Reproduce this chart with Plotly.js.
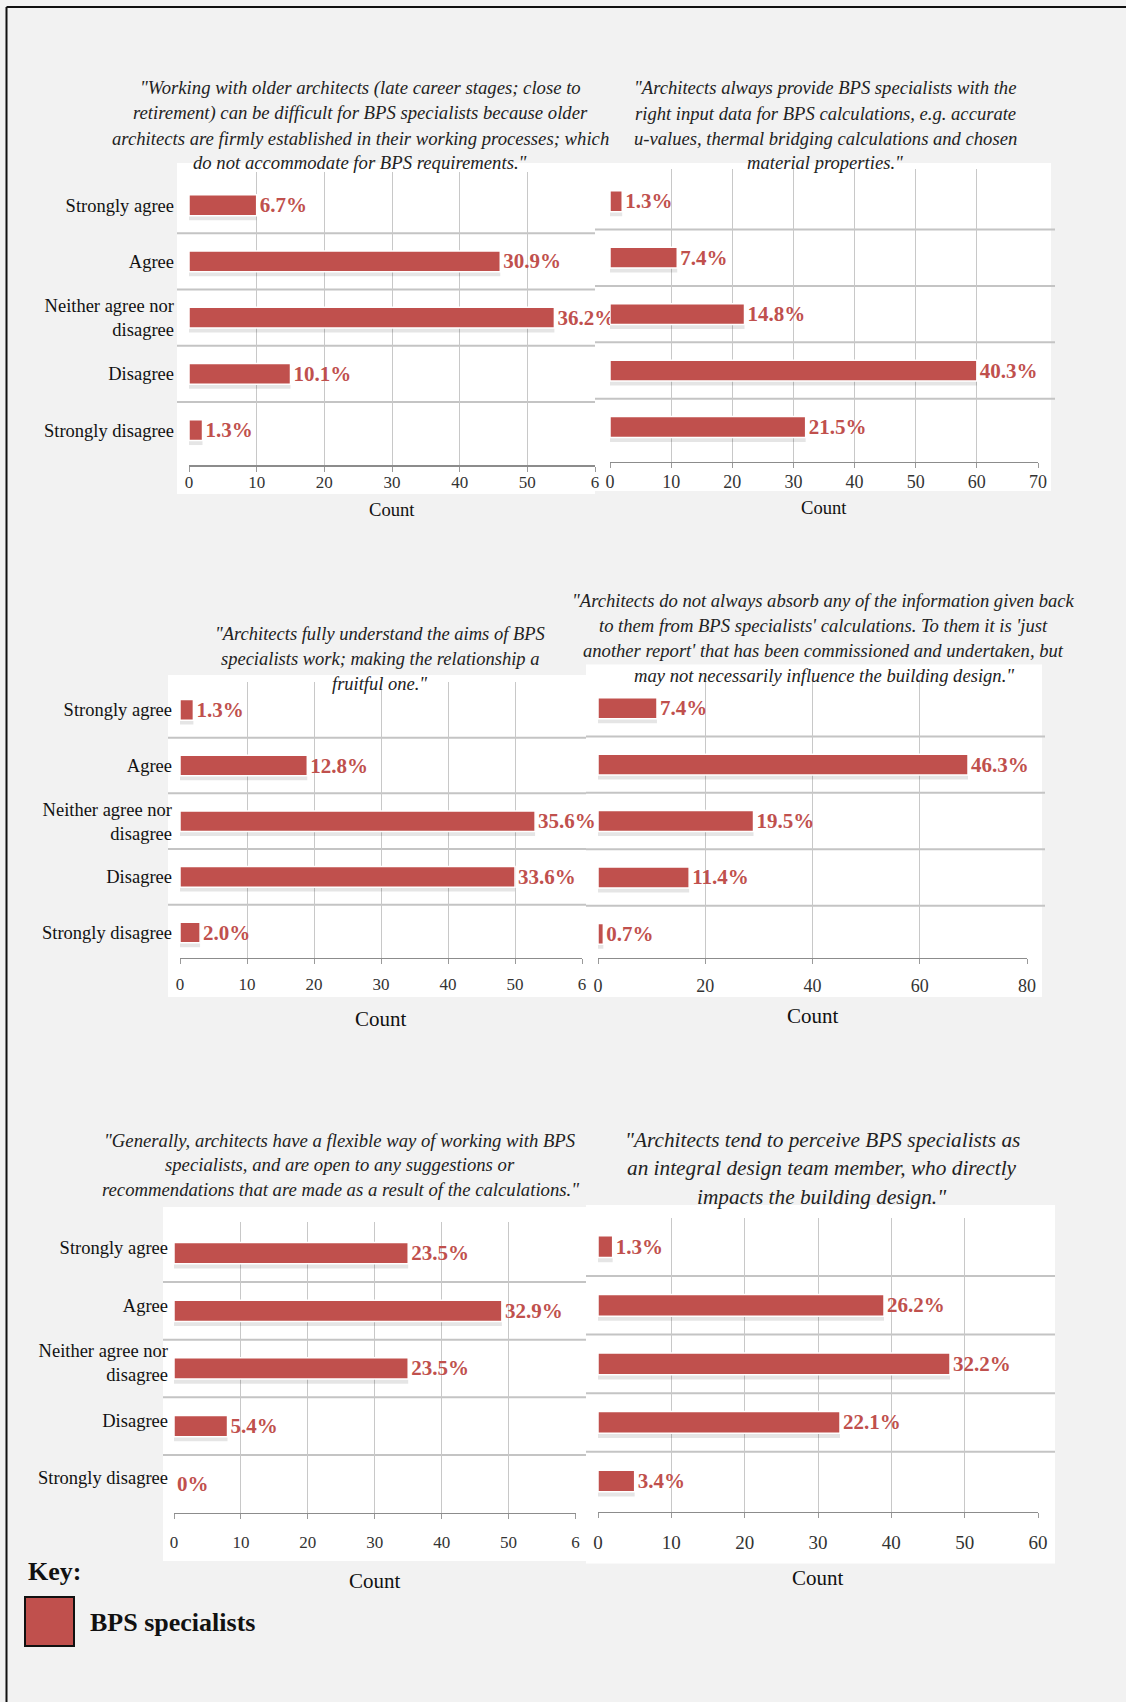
<!DOCTYPE html>
<html><head><meta charset="utf-8">
<script src="https://cdn.plot.ly/plotly-3.0.1.min.js"></script>
<style>html,body{margin:0;padding:0;background:#f2f2f2;} #chart{width:1126px;height:1702px;}</style>
</head><body><div id="chart"></div>
<script>
// ---------- DATA ----------
const categories = ["Strongly agree", "Agree", "Neither agree nor disagree", "Disagree", "Strongly disagree"];

const countsP1 = [10, 46, 54, 15, 2];
const pctP1 = [6.7, 30.9, 36.2, 10.1, 1.3];
const countsP2 = [2, 11, 22, 60, 32];
const pctP2 = [1.3, 7.4, 14.8, 40.3, 21.5];
const countsP3 = [2, 19, 53, 50, 3];
const pctP3 = [1.3, 12.8, 35.6, 33.6, 2.0];
const countsP4 = [11, 69, 29, 17, 1];
const pctP4 = [7.4, 46.3, 19.5, 11.4, 0.7];
const countsP5 = [35, 49, 35, 8, 0];
const pctP5 = [23.5, 32.9, 23.5, 5.4, 0];
const countsP6 = [2, 39, 48, 33, 5];
const pctP6 = [1.3, 26.2, 32.2, 22.1, 3.4];

const titleP1 = ["\"Working with older architects (late career stages; close to",
  "retirement) can be difficult for BPS specialists because older",
  "architects are firmly established in their working processes; which",
  "do not accommodate for BPS requirements.\""];
const titleP2 = ["\"Architects always provide BPS specialists with the",
  "right input data for BPS calculations, e.g. accurate",
  "u-values, thermal bridging calculations and chosen",
  "material properties.\""];
const titleP3 = ["\"Architects fully understand the aims of BPS",
  "specialists work; making the relationship a",
  "fruitful one.\""];
const titleP4 = ["\"Architects do not always absorb any of the information given back",
  "to them from BPS specialists' calculations. To them it is 'just",
  "another report' that has been commissioned and undertaken, but",
  "may not necessarily influence the building design.\""];
const titleP5 = ["\"Generally, architects have a flexible way of working with BPS",
  "specialists, and are open to any suggestions or",
  "recommendations that are made as a result of the calculations.\""];
const titleP6 = ["\"Architects tend to perceive BPS specialists as",
  "an integral design team member, who directly",
  "impacts the building design.\""];

const tickValsP1 = [0, 10, 20, 30, 40, 50, 60];
const tickTextP1 = ["0", "10", "20", "30", "40", "50", "6"];
const tickValsP2 = [0, 10, 20, 30, 40, 50, 60, 70];
const tickTextP2 = ["0", "10", "20", "30", "40", "50", "60", "70"];
const tickValsP3 = [0, 10, 20, 30, 40, 50, 60];
const tickTextP3 = ["0", "10", "20", "30", "40", "50", "6"];
const tickValsP4 = [0, 20, 40, 60, 80];
const tickTextP4 = ["0", "20", "40", "60", "80"];
const tickValsP5 = [0, 10, 20, 30, 40, 50, 60];
const tickTextP5 = ["0", "10", "20", "30", "40", "50", "6"];
const tickValsP6 = [0, 10, 20, 30, 40, 50, 60];
const tickTextP6 = ["0", "10", "20", "30", "40", "50", "60"];

const axisTitle = "Count";
const keyTitle = "Key:";
const seriesName = "BPS specialists";

// ---------- LAYOUT HELPERS ----------
const W = 1126, H = 1702;
const px = x => x / W;
const py = y => 1 - y / H;
const SERIF = "Liberation Serif, Times New Roman, serif";
const BAR = "#c0504d";

const panels = [
  {counts: countsP1, pct: pctP1, title: titleP1, tv: tickValsP1, tt: tickTextP1, cats: true, labShift: 0,
   L: 189, R: 595, T: 171.5, B: 465, yr: [4.62, -0.6], bg: [177, 595, 163, 494], sep: [177, 595],
   tcx: 360, tys: [88, 113, 138, 163], tfs: 18.7, tickfs: 17, cfs: 18.6, cy: 510, xso: -4, yso: 14},
  {counts: countsP2, pct: pctP2, title: titleP2, tv: tickValsP2, tt: tickTextP2, cats: false, labShift: 0,
   L: 610, R: 1038, T: 169, B: 461.5, yr: [4.61, -0.57], bg: [595, 1051, 163, 491], sep: [595, 1055],
   tcx: 825, tys: [88, 113, 138, 163], tfs: 18.6, tickfs: 18, cfs: 18.6, cy: 507, xso: -2, yso: 0},
  {counts: countsP3, pct: pctP3, title: titleP3, tv: tickValsP3, tt: tickTextP3, cats: true, labShift: 0,
   L: 180, R: 582, T: 682, B: 957.6, yr: [4.45, -0.5], bg: [168, 586, 675, 997], sep: [168, 586],
   tcx: 379.5, tys: [634, 659, 684], tfs: 18.5, tickfs: 17, cfs: 21, cy: 1018.5, xso: 5, yso: 7},
  {counts: countsP4, pct: pctP4, title: titleP4, tv: tickValsP4, tt: tickTextP4, cats: false, labShift: 0,
   L: 598, R: 1027, T: 680, B: 957.6, yr: [4.42, -0.5], bg: [586, 1042, 664.5, 997], sep: [586, 1045],
   tcx: 823.6, tys: [600.5, 625.4, 650.4, 675.4], tfs: 18.6, tickfs: 18, cfs: 21, cy: 1016, xso: 6, yso: 0},
  {counts: countsP5, pct: pctP5, title: titleP5, tv: tickValsP5, tt: tickTextP5, cats: true, labShift: -0.1,
   L: 174, R: 575.5, T: 1221.5, B: 1512.5, yr: [4.5, -0.55], bg: [163, 586, 1207, 1561], sep: [163, 586],
   tcx: 340, tys: [1140, 1164, 1189], tfs: 18.7, tickfs: 17, cfs: 21, cy: 1581, xso: 9, yso: 5},
  {counts: countsP6, pct: pctP6, title: titleP6, tv: tickValsP6, tt: tickTextP6, cats: false, labShift: 0,
   L: 598, R: 1038, T: 1218, B: 1511.5, yr: [4.52, -0.49], bg: [586, 1055, 1205, 1563.5], sep: [586, 1055],
   tcx: 822, tys: [1140, 1168, 1196.5], tfs: 21.3, tickfs: 19, cfs: 21, cy: 1577.7, xso: 8, yso: 0}
];

const catPos = categories.map((c, i) => i);
const catText = categories.map(c => c.replace("nor ", "nor<br>"));
const BW = 0.37;

const data = [];
const shapes = [];
const annotations = [];
const layout = {
  width: W, height: H,
  margin: {l: 0, r: 0, t: 0, b: 0},
  paper_bgcolor: "#f2f2f2",
  plot_bgcolor: "rgba(0,0,0,0)",
  barmode: "overlay",
  showlegend: false,
  font: {family: SERIF, color: "#111"}
};

// frame lines
shapes.push({type: "line", xref: "paper", yref: "paper", x0: px(6.5), x1: 1, y0: py(7), y1: py(7), line: {color: "#111", width: 2}, layer: "below"});
shapes.push({type: "line", xref: "paper", yref: "paper", x0: px(6.5), x1: px(6.5), y0: py(7), y1: 0, line: {color: "#111", width: 2}, layer: "below"});

// white backgrounds first
panels.forEach(p => {
  shapes.push({type: "rect", xref: "paper", yref: "paper", layer: "below",
    x0: px(p.bg[0]), x1: px(p.bg[1]), y0: py(p.bg[3]), y1: py(p.bg[2]),
    fillcolor: "#ffffff", line: {width: 0}});
});

panels.forEach((p, k) => {
  const n = k + 1;
  const xa = n === 1 ? "x" : "x" + n;
  const ya = n === 1 ? "y" : "y" + n;
  const xk = n === 1 ? "xaxis" : "xaxis" + n;
  const yk = n === 1 ? "yaxis" : "yaxis" + n;

  layout[xk] = {
    domain: [px(p.L), px(p.R)], range: [0, p.tv[p.tv.length - 1]], anchor: ya,
    tickmode: "array", tickvals: p.tv, ticktext: p.tt,
    showgrid: true, gridcolor: "#c8c8c8", gridwidth: 1,
    zeroline: false, showline: true, linecolor: "#8c8c8c", linewidth: 1.5,
    ticks: "outside", ticklen: 5, tickcolor: "#9a9a9a", tickwidth: 1,
    ticklabelstandoff: p.xso,
    tickfont: {family: SERIF, size: p.tickfs, color: "#333"},
    fixedrange: true
  };
  layout[yk] = {
    domain: [py(p.B), py(p.T)], range: p.yr, anchor: xa,
    tickmode: "array", tickvals: catPos.map(v => v + p.labShift), ticktext: catText,
    showticklabels: p.cats, showgrid: false, zeroline: false, showline: false, ticks: "",
    ticklabelstandoff: p.yso,
    tickfont: {family: SERIF, size: 18.5, color: "#111"},
    fixedrange: true
  };

  // separators between categories
  for (let j = 0; j < categories.length - 1; j++) {
    shapes.push({type: "line", xref: "paper", yref: ya, layer: "below",
      x0: px(p.sep[0]), x1: px(p.sep[1]), y0: j + 0.5, y1: j + 0.5,
      line: {color: "#c4c4c4", width: 2}});
  }

  // soft shadow under bars
  data.push({type: "bar", orientation: "h", x: p.counts, y: catPos, xaxis: xa, yaxis: ya,
    width: BW, offset: -BW / 2 + 0.08, marker: {color: "rgba(0,0,0,0.10)"},
    hoverinfo: "skip", showlegend: false});
  // bars
  data.push({type: "bar", orientation: "h", name: seriesName, x: p.counts, y: catPos, xaxis: xa, yaxis: ya,
    width: BW, marker: {color: BAR, line: {color: "#ffffff", width: 1.5}},
    text: p.pct.map(v => (v === 0 ? "0" : v.toFixed(1)) + "%"),
    textposition: "outside", cliponaxis: false, constraintext: "none",
    textfont: {family: SERIF, size: 21, color: BAR, weight: "bold"},
    showlegend: false});

  // titles
  p.title.forEach((line, i) => {
    annotations.push({xref: "paper", yref: "paper", x: px(p.tcx), y: py(p.tys[i]),
      xanchor: "center", yanchor: "middle", showarrow: false, text: line,
      font: {family: SERIF, size: p.tfs, color: "#222", style: "italic"}});
  });
  // axis title
  annotations.push({xref: "paper", yref: "paper", x: px((p.L + p.R) / 2), y: py(p.cy),
    xanchor: "center", yanchor: "middle", showarrow: false, text: axisTitle,
    font: {family: SERIF, size: p.cfs, color: "#111"}});
});

// key
annotations.push({xref: "paper", yref: "paper", x: px(26), y: py(1571), xanchor: "left", yanchor: "middle",
  showarrow: false, text: keyTitle, font: {family: SERIF, size: 26, color: "#111", weight: "bold"}});
shapes.push({type: "rect", xref: "paper", yref: "paper", x0: px(25), x1: px(74), y0: py(1646), y1: py(1597),
  fillcolor: BAR, line: {color: "#111", width: 2}});
annotations.push({xref: "paper", yref: "paper", x: px(88), y: py(1622), xanchor: "left", yanchor: "middle",
  showarrow: false, text: seriesName, font: {family: SERIF, size: 26, color: "#111", weight: "bold"}});

layout.shapes = shapes;
layout.annotations = annotations;

Plotly.newPlot("chart", data, layout, {displayModeBar: false, staticPlot: true});
</script>
</body></html>
